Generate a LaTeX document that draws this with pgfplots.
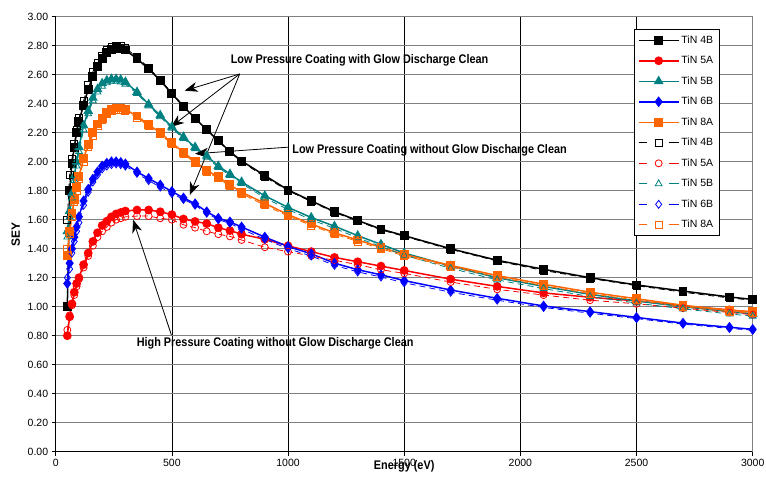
\documentclass[border=0pt]{standalone}
\usepackage{pgfplots}
\pgfplotsset{compat=1.18}
\usepackage{pgfplotstable}
\usepackage{fontspec}
\setmainfont{Liberation Sans}
\newfontfamily\annfont[FakeStretch=0.87]{Liberation Sans}
\usetikzlibrary{arrows.meta}
\definecolor{cteal}{RGB}{0,128,128}
\definecolor{corange}{RGB}{255,102,0}
\definecolor{cgrid}{RGB}{128,128,128}

\pgfplotstableread{
E    b4    r5    t5    bl6   o8    b4o   r5o   t5o   bl6o  o8o
50   1.00  0.80  1.52  1.16  1.35  1.60  0.84  1.48  1.20  1.40
60   1.80  0.93  1.66  1.30  1.52  1.91  0.94  1.62  1.26  1.50
70   1.99  1.02  1.78  1.40  1.64  2.02  1.01  1.75  1.37  1.62
80   2.10  1.10  1.90  1.48  1.74  2.12  1.08  1.87  1.45  1.72
90   2.20  1.16  2.00  1.55  1.82  2.22  1.14  1.97  1.52  1.80
100  2.28  1.20  2.10  1.62  1.90  2.30  1.19  2.07  1.58  1.88
120  2.39  1.29  2.25  1.73  2.02  2.42  1.27  2.22  1.70  2.00
140  2.50  1.37  2.35  1.81  2.12  2.53  1.35  2.33  1.79  2.10
160  2.59  1.45  2.44  1.88  2.20  2.62  1.42  2.42  1.86  2.18
180  2.655 1.51  2.50  1.93  2.26  2.68  1.48  2.48  1.91  2.245
200  2.71  1.56  2.54  1.97  2.30  2.73  1.52  2.52  1.95  2.29
220  2.75  1.59  2.56  1.99  2.34  2.77  1.55  2.545 1.97  2.33
240  2.775 1.62  2.57  2.00  2.36  2.795 1.58  2.555 1.98  2.35
260  2.785 1.64  2.57  2.00  2.37  2.80  1.60  2.555 1.985 2.36
280  2.78  1.65  2.565 1.995 2.37  2.80  1.61  2.55  1.98  2.36
300  2.77  1.66  2.55  1.985 2.36  2.785 1.62  2.535 1.97  2.35
350  2.71  1.667 2.48  1.93  2.315 2.72  1.625 2.47  1.92  2.305
400  2.64  1.667 2.395 1.885 2.255 2.65  1.625 2.385 1.87  2.245
450  2.56  1.655 2.32  1.84  2.20  2.565 1.61  2.31  1.825 2.19
500  2.47  1.635 2.24  1.795 2.13  2.475 1.60  2.23  1.78  2.12
550  2.38  1.605 2.17  1.75  2.065 2.385 1.565 2.16  1.74  2.055
600  2.30  1.588 2.10  1.71  2.00  2.30  1.545 2.09  1.70  1.99
650  2.22  1.573 2.04  1.655 1.94  2.22  1.52  2.03  1.645 1.93
700  2.145 1.545 1.97  1.61  1.895 2.14  1.50  1.96  1.60  1.885
750  2.07  1.525 1.915 1.585 1.84  2.065 1.485 1.905 1.575 1.83
800  2.005 1.50  1.86  1.55  1.79  2.00  1.46  1.85  1.535 1.78
900  1.905 1.465 1.765 1.48  1.713 1.895 1.41  1.75  1.465 1.70
1000 1.805 1.42  1.685 1.415 1.635 1.80  1.38  1.67  1.40  1.625
1100 1.73  1.38  1.615 1.365 1.57  1.725 1.35  1.60  1.35  1.56
1200 1.655 1.34  1.555 1.30  1.51  1.65  1.32  1.54  1.285 1.50
1300 1.595 1.31  1.49  1.255 1.46  1.59  1.29  1.475 1.24  1.45
1400 1.535 1.28  1.43  1.22  1.41  1.53  1.255 1.415 1.205 1.40
1500 1.49  1.25  1.37  1.18  1.36  1.485 1.23  1.355 1.165 1.35
1700 1.40  1.19  1.28  1.115 1.285 1.395 1.17  1.265 1.10  1.275
1900 1.32  1.14  1.20  1.058 1.215 1.315 1.12  1.185 1.045 1.205
2100 1.258 1.095 1.14  1.005 1.155 1.25  1.08  1.125 0.995 1.145
2300 1.20  1.065 1.085 0.966 1.10  1.195 1.045 1.07  0.955 1.09
2500 1.15  1.04  1.04  0.926 1.055 1.145 1.02  1.025 0.918 1.045
2700 1.108 1.005 1.00  0.887 1.01  1.10  0.99  0.985 0.88  1.00
2900 1.067 0.978 0.966 0.858 0.975 1.06  0.96  0.95  0.85  0.965
3000 1.05  0.962 0.95  0.844 0.965 1.045 0.945 0.935 0.838 0.955
}\data

\pgfplotsset{
  solidleg/.style={legend image code/.code={%
    \draw[mark repeat=2,mark phase=2,##1] plot coordinates {(0pt,0pt)(20pt,0pt)(40pt,0pt)};}},
  dashleg/.style={legend image code/.code={%
    \draw[mark repeat=2,mark phase=2,##1,dash pattern=on 8pt off 22pt on 10pt] plot coordinates {(0pt,0pt)(20pt,0pt)(40pt,0pt)};}},
  fs/.style={line width=1.5pt, mark options={solid}, solidleg},
  ds/.style={line width=0.8pt, dash pattern=on 6pt off 4pt, mark options={solid, line width=0.8pt, fill=none}, dashleg},
}

\begin{document}
\begin{tikzpicture}
\begin{axis}[
  at={(0pt,0pt)}, anchor=south west,
  width=697pt, height=435pt, scale only axis,
  xmin=0, xmax=3000, ymin=0, ymax=3,
  xtick={0,500,...,3000},
  ytick={0,0.2,...,3.0},
  axis x line*=bottom, axis y line*=left,
  axis line style={-, black, line width=0.8pt},
  tick align=outside, major tick length=4pt,
  tick style={black, line width=0.6pt},
  xmajorgrids, ymajorgrids,
  x grid style={black, line width=0.7pt},
  y grid style={cgrid, line width=0.9pt},
  /pgf/number format/assume math mode=true,
  yticklabel style={/pgf/number format/.cd, fixed, fixed zerofill, precision=2},
  xticklabel style={/pgf/number format/.cd, fixed, 1000 sep={}},
  every tick label/.append style={font=\fontsize{10.5}{12.6}\selectfont},
  ylabel={\bfseries\fontsize{12}{14}\selectfont SEY},
  ylabel style={at={(axis description cs:-0.0574,0.5)}, anchor=center},
  xlabel={\annfont\bfseries\fontsize{12.5}{15}\selectfont Energy (eV)},
  xlabel style={at={(axis description cs:0.5,-0.0345)}, anchor=center},
  legend style={at={(0.829,0.971)}, anchor=north west, draw=black, line width=0.8pt,
    font=\fontsize{10.5}{12.6}\selectfont, row sep=7.4pt, inner sep=4pt,
    nodes={inner sep=2pt}},
  legend cell align=left,
  clip=false,
]
\addplot[black, fs, mark=square*, mark size=3.7pt] table[x=E,y=b4] {\data};
\addplot[red, fs, mark=*, mark size=3.6pt] table[x=E,y=r5] {\data};
\addplot[cteal, fs, mark=triangle*, mark size=4.2pt] table[x=E,y=t5] {\data};
\addplot[blue, fs, mark=diamond*, mark size=4.2pt] table[x=E,y=bl6] {\data};
\addplot[corange, fs, mark=square*, mark size=3.7pt] table[x=E,y=o8] {\data};
\addplot[black, ds, mark=square, mark size=3.5pt] table[x=E,y=b4o] {\data};
\addplot[red, ds, mark=o, mark size=3.5pt] table[x=E,y=r5o] {\data};
\addplot[cteal, ds, mark=triangle, mark size=4pt] table[x=E,y=t5o] {\data};
\addplot[blue, ds, mark=diamond, mark size=4pt] table[x=E,y=bl6o] {\data};
\addplot[corange, ds, mark=square, mark size=3.5pt] table[x=E,y=o8o] {\data};
\legend{TiN 4B,TiN 5A,TiN 5B,TiN 6B,TiN 8A,TiN 4B,TiN 5A,TiN 5B,TiN 6B,TiN 8A}

\draw[cgrid, line width=0.9pt] (axis cs:3000,0) -- (axis cs:3000,3);

\node[anchor=west, inner sep=0pt, font=\annfont\bfseries\fontsize{12.5}{15}\selectfont] at (axis cs:753,2.70) {Low Pressure Coating with Glow Discharge Clean};
\node[anchor=west, inner sep=0pt, font=\annfont\bfseries\fontsize{12.5}{15}\selectfont] at (axis cs:1018,2.08) {Low Pressure Coating without Glow Discharge Clean};
\node[anchor=west, inner sep=0pt, font=\annfont\bfseries\fontsize{12.5}{15}\selectfont] at (axis cs:348,0.747) {High Pressure Coating without Glow Discharge Clean};

\begin{scope}[line width=0.8pt, -{Stealth[length=13pt,width=10pt,inset=4pt]}]
\draw (axis cs:792,2.605) -- (axis cs:555,2.49);
\draw (axis cs:792,2.605) -- (axis cs:496,2.24);
\draw (axis cs:792,2.605) -- (axis cs:577,1.77);
\draw (axis cs:999,2.10) -- (axis cs:600,2.055);
\draw (axis cs:498,0.805) -- (axis cs:333,1.60);
\end{scope}
\end{axis}
\pgfresetboundingbox
\path[use as bounding box] (-55.7pt,-25.3pt) rectangle (710.3pt,451.7pt);
\end{tikzpicture}
\end{document}
